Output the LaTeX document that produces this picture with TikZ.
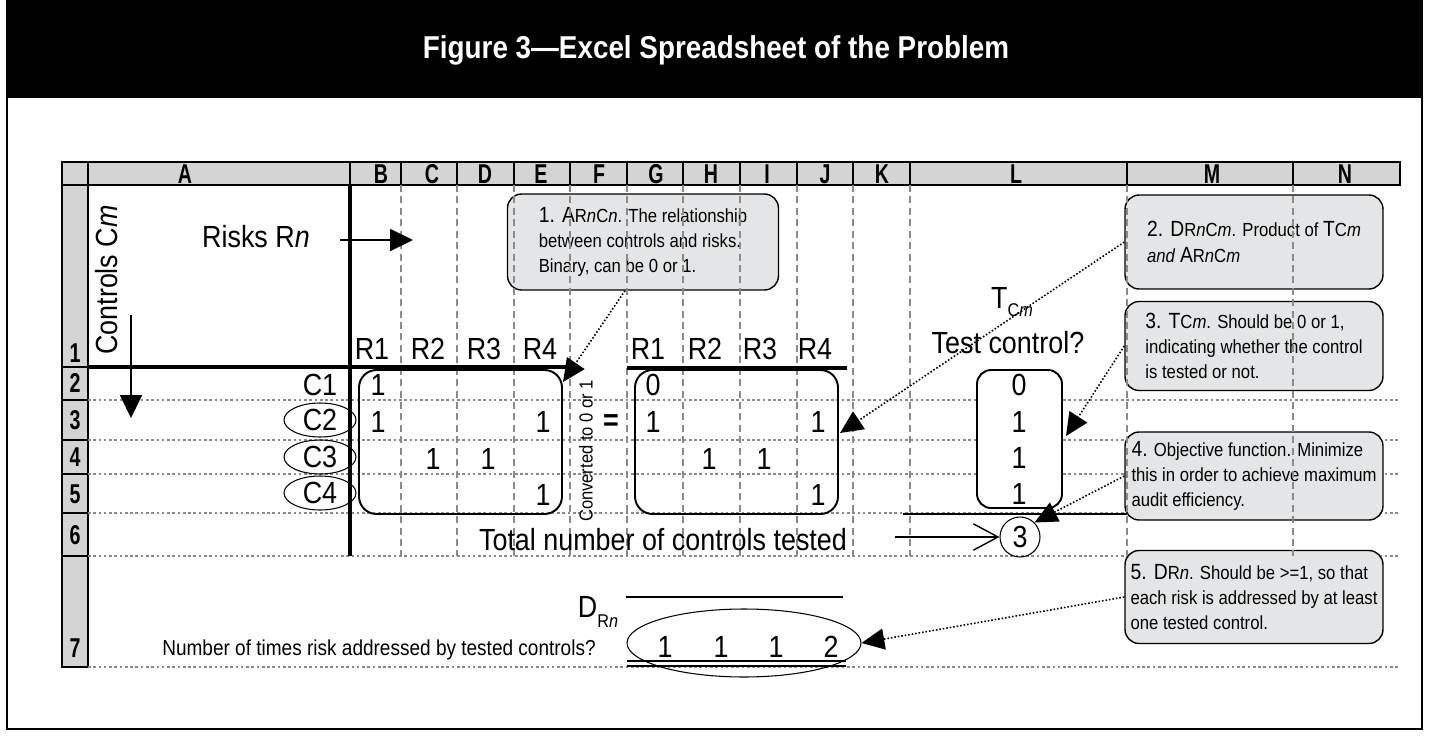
\documentclass[tikz,border=0pt]{standalone}
\usepackage{fontspec}
\setmainfont{Liberation Sans}[FakeStretch=0.88]
\newfontfamily\headfont{Liberation Sans}[FakeStretch=0.72]
\usetikzlibrary{arrows.meta,shapes.geometric,calc}

\definecolor{calloutgray}{HTML}{E4E5E6}
\definecolor{headgray}{HTML}{D4D4D4}
\definecolor{gridgray}{HTML}{8A8A8A}

\newcommand{\cbig}{\fontsize{12.5}{14.4}\selectfont}
\newcommand{\csm}{\fontsize{10.8}{14.4}\selectfont}
\newcommand{\subtxt}{\fontsize{10.5}{12}\selectfont}

\tikzset{
  thinline/.style={line width=0.6pt},
  thickline/.style={line width=2.3pt},
  matbox/.style={line width=1.1pt, rounded corners=10pt},
  rowline/.style={gridgray, line width=0.6pt, dash pattern=on 1.5pt off 1.5pt},
  colline/.style={gridgray, line width=0.6pt, dash pattern=on 4pt off 2.5pt},
  bigtxt/.style={font=\fontsize{17.4}{20}\selectfont, inner sep=0pt},
  smtxt/.style={font=\fontsize{10.7}{13}\selectfont, inner sep=0pt},
  rowtxt/.style={font=\fontsize{12.3}{14}\selectfont, inner sep=0pt},
  headtxt/.style={font=\headfont\bfseries\fontsize{15.5}{16}\selectfont, inner sep=0pt},
  titletxt/.style={font=\bfseries\fontsize{18}{20}\selectfont, text=white},
  callout/.style={draw, line width=0.8pt, fill=calloutgray, rounded corners=8pt,
    align=left, inner sep=0pt, font=\csm, minimum width=5.16cm},
  bigarrow/.style={line width=0.8pt, -{Triangle[length=13pt,width=12.5pt]}},
  callarrow/.style={line width=0.9pt, dash pattern=on 0.9pt off 1.1pt,
    -{Triangle[length=13pt,width=12pt]}},
  openarrow/.style={line width=0.8pt, -{Straight Barb[length=14pt,width=15pt]}},
}

\begin{document}
\begin{tikzpicture}[x=0.02cm,y=-0.02cm]
    \useasboundingbox (0,0) rectangle (1431,744);

    % frame and title band
    \fill (7,0) rectangle (1422,98);
    \draw[thinline] (7,0) rectangle (1422,729);
    \node[titletxt] (title) at (716,50) {Figure 3—Excel Spreadsheet of the Problem};

    % sheet headers
    \fill[headgray] (62,162) rectangle (1400,185);
    \fill[headgray] (62,185) rectangle (88,667);
    \draw[thinline] (62,162) rectangle (1400,185);
    \draw[thinline] (62,162) rectangle (88,667);
    \foreach \x in {350,401,457,514,570,627,683,740,797,853,910,1127,1293}
        \draw[thinline] (\x,162) -- (\x,185);
    \foreach \y in {367,400,440,474,513,556}
        \draw[thinline] (62,\y) -- (88,\y);
    \foreach \l/\x in {A/185,B/381,C/432,D/485,E/541,F/599,G/656,H/711,I/767,J/825,K/882,L/1016,M/1212,N/1345}
        \node[headtxt] (col\l) at (\x,174) {\l};
    \foreach \r/\y in {1/353,2/383,3/420,4/457,5/494,6/535,7/648}
        \node[headtxt] (row\r) at (75,\y) {\r};

    % row lines
    \foreach \y in {400,440,474,513,556,667}
        \draw[rowline] (88,\y) -- (1400,\y);

    % callouts
    \node[callout, minimum width=5.42cm, minimum height=1.92cm] (c1) at (643,242)
        {{\cbig 1. A}R\textit{n}C\textit{n}. The relationship\\between controls and risks.\\Binary, can be 0 or 1.};
    \node[callout, minimum height=1.88cm] (c2) at (1254,242)
        {{\cbig 2. D}R\textit{n}C\textit{m}. Product of {\cbig T}C\textit{m}\\\textit{and} {\cbig A}R\textit{n}C\textit{m}};
    \node[callout, minimum height=1.78cm] (c3) at (1254,346)
        {{\cbig 3. T}C\textit{m}. Should be 0 or 1,\\indicating whether the control\\is tested or not.};
    \node[callout, minimum height=1.76cm] (c4) at (1254,476)
        {{\cbig 4.} Objective function. Minimize\\this in order to achieve maximum\\audit efficiency.};
    \node[callout, minimum height=1.86cm] (c5) at (1254,597)
        {{\cbig 5. D}R\textit{n}. Should be >=1, so that\\each risk is addressed by at least\\one tested control.};

    % column lines
    \foreach \x in {401,457,514,570,627,683,740,797,853,910,1127,1293}
        \draw[colline] (\x,185) -- (\x,556);

    % heavy rules
    \draw[thickline] (350,185) -- (350,556);
    \draw[thickline] (88,367) -- (568,367);
    \draw[thickline] (627,368) -- (847,368);

    % labels of the axes
    \node[bigtxt] (risks) at (256,237) {Risks R\textit{n}};
    \node[bigtxt, rotate=90] (controls) at (107,280) {Controls C\textit{m}};
    \coordinate (rskA) at (340,240);
    \coordinate (rskB) at (413,240);
    \coordinate (ctlA) at (131,315);
    \coordinate (ctlB) at (131,418);
    \draw[bigarrow] (rskA) -- (rskB);
    \draw[bigarrow] (ctlA) -- (ctlB);

    \foreach \n/\x in {1/372,2/428,3/484,4/540}
        \node[bigtxt] (ra\n) at (\x,349) {R\n};
    \foreach \n/\x in {1/648,2/705,3/760,4/815}
        \node[bigtxt] (rd\n) at (\x,349) {R\n};

    % controls
    \node[bigtxt] (ctl1) at (320,385) {C1};
    \node[bigtxt, draw, ellipse, thinline, minimum width=1.44cm, minimum height=0.68cm] (ctl2) at (320,420) {C2};
    \node[bigtxt, draw, ellipse, thinline, minimum width=1.44cm, minimum height=0.68cm] (ctl3) at (320,457) {C3};
    \node[bigtxt, draw, ellipse, thinline, minimum width=1.44cm, minimum height=0.68cm] (ctl4) at (320,493) {C4};

    % matrix A
    \draw[matbox] (359,370) rectangle (562,514);
    \foreach \v/\x/\y [count=\i] in {1/378/385,1/378/422,1/543/422,1/433/459,1/488/459,1/543/495}
        \node[bigtxt] (a\i) at (\x,\y) {\v};
    \node[smtxt, rotate=90] (conv) at (586,451) {Converted to 0 or 1};
    \node[bigtxt, font=\bfseries\fontsize{17.4}{20}\selectfont] (eq) at (611,423) {=};

    % matrix D
    \draw[matbox] (635,370) rectangle (838,514);
    \foreach \v/\x/\y [count=\i] in {0/653/385,1/653/422,1/818/422,1/709/459,1/764/459,1/818/495}
        \node[bigtxt] (d\i) at (\x,\y) {\v};

    % test column
    \node[bigtxt] (tcm) at (1012,302) {T\raisebox{-0.45ex}{\subtxt C\textit{m}}};
    \node[bigtxt] (testq) at (1008,343) {Test control?};
    \draw[matbox, rounded corners=8pt, fill=white] (977,370) rectangle (1062,508);
    \foreach \v/\y [count=\i] in {0/385,1/422,1/458,1/494}
        \node[bigtxt] (t\i) at (1019,\y) {\v};
    \draw[thinline] (903,514) -- (1127,514);

    % total
    \node[bigtxt] (total) at (663,540) {Total number of controls tested};
    \node[bigtxt, draw, circle, thinline, minimum size=0.8cm] (tot) at (1020,537) {3};
    \coordinate (totA) at (895,537);
    \draw[openarrow] (totA) -- (tot.west);

    % row 7
    \node[rowtxt] (timesq) at (379,650) {Number of times risk addressed by tested controls?};
    \node[bigtxt] (drn) at (598,612) {D\raisebox{-0.6ex}{\subtxt R\textit{n}}};
    \draw[thinline] (626,597) -- (843,597);
    \node[draw, ellipse, thinline, minimum width=4.68cm, minimum height=1.36cm] (dsum) at (744,643) {};
    \foreach \v/\x [count=\i] in {1/665,1/721,1/776,2/831}
        \node[bigtxt] (s\i) at (\x,647) {\v};
    \draw[thinline] (627,661) -- (846,661);
    \draw[thinline] (627,666) -- (846,666);

    % callout pointers
    \coordinate (atip) at (563,382);
    \coordinate (dtip) at (840,433);
    \coordinate (ltip) at (1066,436);
    \draw[callarrow] ($(c1.south)+(-18,0)$) -- (atip);
    \draw[callarrow] (c2.west) -- (dtip);
    \draw[callarrow] (c3.west) -- (ltip);
    \draw[callarrow] (c4.west) -- (tot.north east);
    \draw[callarrow] (c5.west) -- (dsum.east);
\end{tikzpicture}
\end{document}
